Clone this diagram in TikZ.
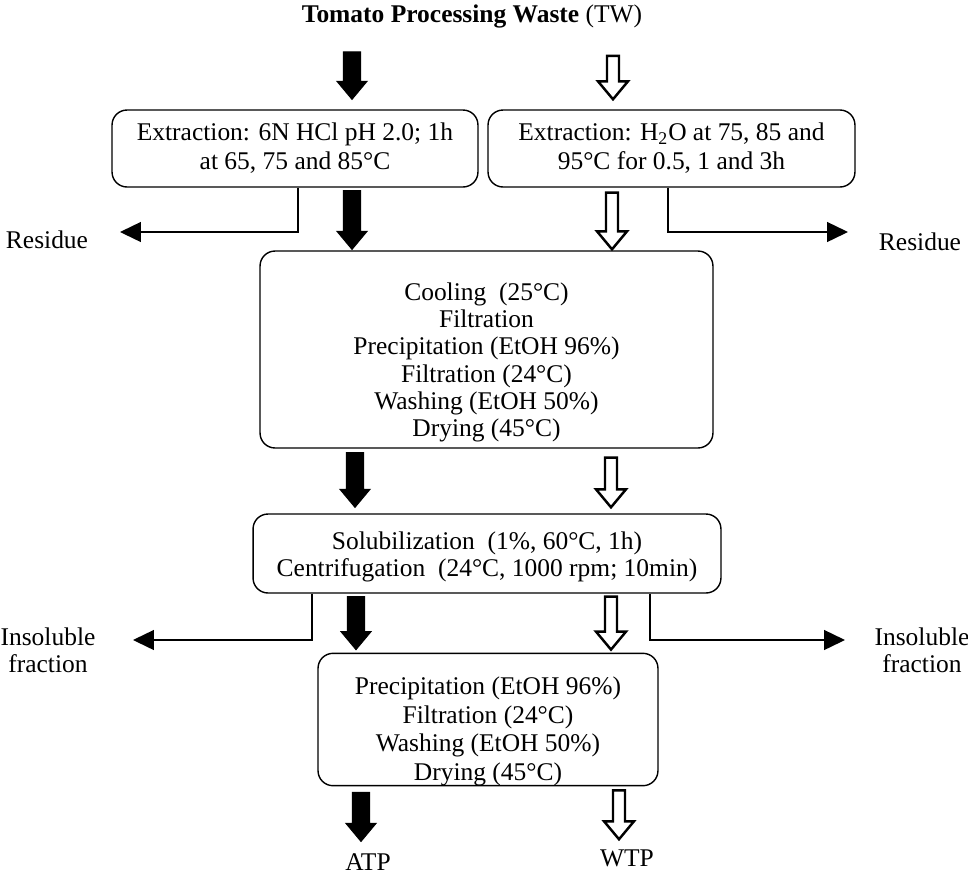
\documentclass[tikz,border=0pt]{standalone}
\usepackage{fontspec}
\setmainfont{Liberation Serif}
\usetikzlibrary{arrows.meta,calc}

% wide block arrow: style, half shaft width, start, tip
\newcommand\fatarrow[4]{%
  \draw[#1] let \p1=#3, \p2=#4 in
    ({\x1-#2},\y1) -- ({\x1+#2},\y1) -- ({\x1+#2},{\y2+0.36cm})
    -- ({\x1+0.3cm},{\y2+0.36cm}) -- (\x1,\y2) -- ({\x1-0.3cm},{\y2+0.36cm})
    -- ({\x1-#2},{\y2+0.36cm}) -- cycle;}
% taller first line, pushes the text of a box down
\newcommand\lift[1]{\rule{0pt}{#1}}

\begin{document}
\begin{tikzpicture}[x=0.02cm,y=-0.02cm,
  every node/.style={font=\fontsize{14.5}{15.5}\selectfont},
  box/.style={draw,rounded corners=0.3cm,line width=0.8pt,align=center,inner sep=0pt},
  side/.style={draw,line width=0.8pt,-{Triangle[length=0.42cm,width=0.4cm]}},
  bigblack/.style={fill=black,draw=black,line width=0.6pt},
  bigopen/.style={fill=white,draw=black,line width=1.4pt}]
\useasboundingbox (0,0) rectangle (968,877);

\node (title) at (472,16) {\textbf{Tomato Processing Waste} (TW)};

\node[box,minimum width=7.32cm,minimum height=1.54cm,font=\fontsize{14.5}{16.5}\selectfont] (ext1) at (295,148.5)
  {Extraction: 6N HCl pH 2.0; 1h\\at 65, 75 and 85°C};
\node[box,minimum width=7.34cm,minimum height=1.54cm,font=\fontsize{14.5}{16.5}\selectfont] (ext2) at (671.5,148.5)
  {Extraction: H\textsubscript{2}O at 75, 85 and\\95°C for 0.5, 1 and 3h};

\node[box,minimum width=9.06cm,minimum height=3.94cm] (proc) at (486.5,349.5)
  {\lift{0.87cm}Cooling\ \ (25°C)\\Filtration\\Precipitation (EtOH 96\%)\\Filtration (24°C)\\Washing (EtOH 50\%)\\Drying (45°C)};

\node[box,minimum width=9.36cm,minimum height=1.58cm] (sol) at (487,553.5)
  {\lift{0.5cm}Solubilization\ \ (1\%, 60°C, 1h)\\Centrifugation\ \ (24°C, 1000 rpm; 10min)};

\node[box,minimum width=6.8cm,minimum height=2.58cm,font=\fontsize{14.5}{16.2}\selectfont] (prec) at (488,719.5)
  {\lift{0.83cm}Precipitation (EtOH 96\%)\\Filtration (24°C)\\Washing (EtOH 50\%)\\Drying (45°C)};

\node (resL) at (47,240) {Residue};
\node (resR) at (920,242) {Residue};
\node[align=center] (insL) at (48,650) {Insoluble\\fraction};
\node[align=center] (insR) at (922,650) {Insoluble\\fraction};
\node (atp) at (368,862) {ATP};
\node (wtp) at (627,858) {WTP};

% side streams
\coordinate (kL1) at (298,232); \coordinate (eL1) at (120,232);
\coordinate (kR1) at (668,232); \coordinate (eR1) at (848,232);
\coordinate (kL2) at (312,640); \coordinate (eL2) at (133,640);
\coordinate (kR2) at (650,640); \coordinate (eR2) at (845,640);
\draw[side] (ext1.south -| kL1) -- (kL1) -- (eL1);
\draw[side] (ext2.south -| kR1) -- (kR1) -- (eR1);
\draw[side] (sol.south -| kL2) -- (kL2) -- (eL2);
\draw[side] (sol.south -| kR2) -- (kR2) -- (eR2);

% main streams
\coordinate (a1) at (352,0); \coordinate (b1) at (613,0);
\coordinate (a2) at (352,0); \coordinate (b2) at (612,0);
\coordinate (a3) at (355,0); \coordinate (b3) at (611,0);
\coordinate (a4) at (356,0); \coordinate (b4) at (611,0);
\coordinate (a5) at (361,0); \coordinate (b5) at (619,0);

\fatarrow{bigblack}{0.17cm}{($(a1 |- title.south)+(0,18)$)}{($(a1 |- ext1.north)+(0,-10)$)}
\fatarrow{bigopen}{0.12cm}{($(b1 |- title.south)+(0,22)$)}{($(b1 |- ext2.north)+(0,-10)$)}
\fatarrow{bigblack}{0.17cm}{($(a2 |- ext1.south)+(0,3)$)}{($(a2 |- proc.north)+(0,-1)$)}
\fatarrow{bigopen}{0.12cm}{($(b2 |- ext2.south)+(0,5)$)}{($(b2 |- proc.north)+(0,-1)$)}
\fatarrow{bigblack}{0.17cm}{($(a3 |- proc.south)+(0,4)$)}{($(a3 |- sol.north)+(0,-6)$)}
\fatarrow{bigopen}{0.12cm}{($(b3 |- proc.south)+(0,9)$)}{($(b3 |- sol.north)+(0,-6)$)}
\fatarrow{bigblack}{0.17cm}{($(a4 |- sol.south)+(0,3)$)}{($(a4 |- prec.north)+(0,-3)$)}
\fatarrow{bigopen}{0.12cm}{($(b4 |- sol.south)+(0,3)$)}{($(b4 |- prec.north)+(0,-3)$)}
\fatarrow{bigblack}{0.17cm}{($(a5 |- prec.south)+(0,6)$)}{($(a5 |- atp.north)+(0,-6)$)}
\fatarrow{bigopen}{0.12cm}{($(b5 |- prec.south)+(0,4)$)}{($(b5 |- wtp.north)+(0,-4)$)}

\end{tikzpicture}
\end{document}
